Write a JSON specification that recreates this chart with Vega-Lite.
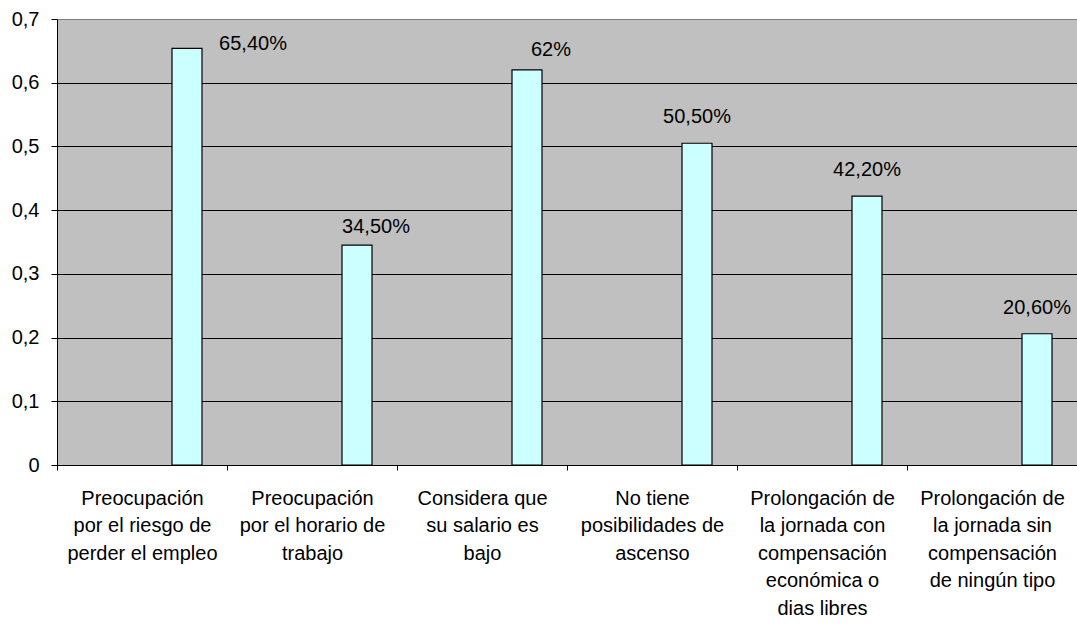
{
  "$schema": "https://vega.github.io/schema/vega-lite/v6.json",
  "width": 1020,
  "height": 446,
  "autosize": {"type": "none"},
  "padding": {"left": 57, "top": 19, "right": 0, "bottom": 160},
  "background": "white",
  "config": {
    "font": "Liberation Sans",
    "view": {"fill": "#C0C0C0", "stroke": "#808080", "strokeWidth": 1}
  },
  "data": {
    "values": [
      {"categoria": "Preocupación por el riesgo de perder el empleo", "valor": 0.654, "etiqueta": "65,40%"},
      {"categoria": "Preocupación por el horario de trabajo", "valor": 0.345, "etiqueta": "34,50%"},
      {"categoria": "Considera que su salario es bajo", "valor": 0.62, "etiqueta": "62%"},
      {"categoria": "No tiene posibilidades de ascenso", "valor": 0.505, "etiqueta": "50,50%"},
      {"categoria": "Prolongación de la jornada con compensación económica o dias libres", "valor": 0.422, "etiqueta": "42,20%"},
      {"categoria": "Prolongación de la jornada sin compensación de ningún tipo", "valor": 0.206, "etiqueta": "20,60%"}
    ]
  },
  "encoding": {
    "x": {
      "field": "categoria",
      "type": "nominal",
      "sort": null,
      "scale": {"paddingInner": 0, "paddingOuter": 0},
      "axis": {
        "title": null,
        "labelAngle": 0,
        "labelAlign": "center",
        "labelBaseline": "top",
        "labelFontSize": 20,
        "labelLineHeight": 27.5,
        "labelPadding": 18,
        "labelColor": "black",
        "labelLimit": 0,
        "labelOverlap": false,
        "labelBound": false,
        "tickSize": 5,
        "tickColor": "black",
        "tickOffset": -85,
        "labelOffset": 85,
        "domainColor": "black",
        "grid": false,
        "labelExpr": "{'Preocupación por el riesgo de perder el empleo': ['Preocupación', 'por el riesgo de', 'perder el empleo'], 'Preocupación por el horario de trabajo': ['Preocupación', 'por el horario de', 'trabajo'], 'Considera que su salario es bajo': ['Considera que', 'su salario es', 'bajo'], 'No tiene posibilidades de ascenso': ['No tiene', 'posibilidades de', 'ascenso'], 'Prolongación de la jornada con compensación económica o dias libres': ['Prolongación de', 'la jornada con', 'compensación', 'económica o', 'dias libres'], 'Prolongación de la jornada sin compensación de ningún tipo': ['Prolongación de', 'la jornada sin', 'compensación', 'de ningún tipo']}[datum.value]"
      }
    },
    "xOffset": {
      "datum": "d",
      "scale": {"domain": ["a", "b", "c", "d"], "paddingInner": 0, "paddingOuter": 0.833}
    },
    "y": {
      "field": "valor",
      "type": "quantitative",
      "scale": {"domain": [0, 0.7], "nice": false},
      "axis": {
        "title": null,
        "values": [0, 0.1, 0.2, 0.3, 0.4, 0.5, 0.6, 0.7],
        "labelExpr": "datum.value == 0 ? '0' : replace(format(datum.value, '.1f'), '.', ',')",
        "labelFontSize": 20,
        "labelColor": "black",
        "labelPadding": 12,
        "tickSize": 6,
        "tickColor": "black",
        "domainColor": "black",
        "gridColor": {"condition": {"test": "datum.value >= 0.7", "value": "#808080"}, "value": "black"},
        "gridOpacity": 1,
        "gridWidth": 1
      }
    }
  },
  "layer": [
    {"mark": {"type": "bar", "fill": "#CCFFFF", "stroke": "black", "strokeWidth": 1.2}},
    {
      "transform": [{"filter": {"field": "categoria", "oneOf": ["No tiene posibilidades de ascenso", "Prolongación de la jornada con compensación económica o dias libres", "Prolongación de la jornada sin compensación de ningún tipo"]}}],
      "mark": {"type": "text", "baseline": "alphabetic", "fontSize": 20, "color": "black", "dy": -20},
      "encoding": {"text": {"field": "etiqueta"}}
    },
    {
      "transform": [{"filter": {"field": "categoria", "equal": "Considera que su salario es bajo"}}],
      "mark": {"type": "text", "baseline": "alphabetic", "fontSize": 20, "color": "black", "dy": -14, "dx": 24},
      "encoding": {"text": {"field": "etiqueta"}}
    },
    {
      "transform": [{"filter": {"field": "categoria", "equal": "Preocupación por el horario de trabajo"}}],
      "mark": {"type": "text", "baseline": "alphabetic", "fontSize": 20, "color": "black", "dy": -12, "dx": 19},
      "encoding": {"text": {"field": "etiqueta"}}
    },
    {
      "transform": [{"filter": {"field": "categoria", "equal": "Preocupación por el riesgo de perder el empleo"}}],
      "mark": {"type": "text", "baseline": "alphabetic", "fontSize": 20, "color": "black", "dy": 2, "dx": 66},
      "encoding": {"text": {"field": "etiqueta"}}
    }
  ]
}
